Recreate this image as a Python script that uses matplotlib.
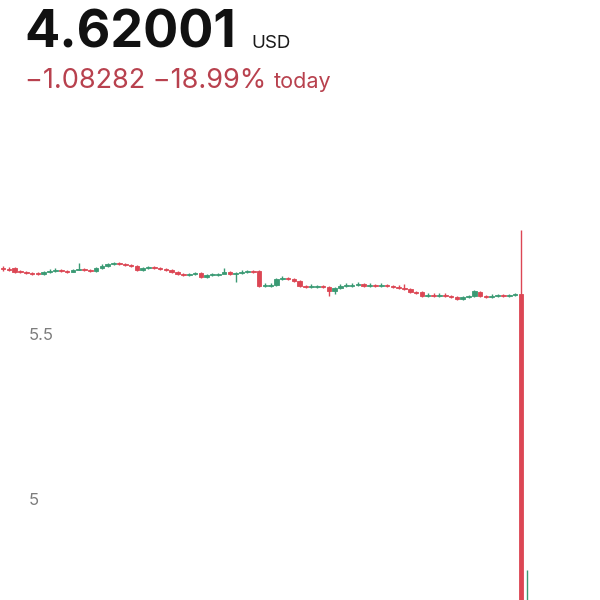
import matplotlib
matplotlib.use('Agg')
import matplotlib.pyplot as plt
import matplotlib.transforms as mtransforms

plt.rcParams['font.family'] = ['Inter', 'DejaVu Sans']

# price header
last_price = '4.62001'
currency = 'USD'
change_text = '\u22121.08282 \u221218.99%'
change_label = 'today'

# candles (open / high / low / close), one per bar
opens = [5.703, 5.700, 5.703, 5.694, 5.691, 5.688, 5.688, 5.685, 5.691, 5.694,
         5.697, 5.694, 5.691, 5.697, 5.700, 5.697, 5.694, 5.703, 5.709, 5.715,
         5.718, 5.715, 5.712, 5.709, 5.697, 5.703, 5.706, 5.703, 5.700, 5.697,
         5.691, 5.685, 5.682, 5.685, 5.688, 5.676, 5.682, 5.682, 5.685, 5.691,
         5.685, 5.688, 5.691, 5.694, 5.694, 5.648, 5.648, 5.652, 5.670, 5.673,
         5.670, 5.664, 5.648, 5.645, 5.645, 5.648, 5.645, 5.633, 5.642, 5.648,
         5.648, 5.652, 5.655, 5.648, 5.652, 5.648, 5.652, 5.648, 5.645, 5.642,
         5.639, 5.630, 5.630, 5.618, 5.621, 5.618, 5.621, 5.618, 5.615, 5.609,
         5.615, 5.618, 5.630, 5.618, 5.615, 5.618, 5.621, 5.618, 5.621, 5.624,
         4.620]
closes = [5.700, 5.697, 5.691, 5.691, 5.688, 5.685, 5.685, 5.691, 5.694, 5.697,
          5.694, 5.691, 5.697, 5.700, 5.697, 5.694, 5.703, 5.709, 5.715, 5.718,
          5.715, 5.712, 5.709, 5.697, 5.703, 5.706, 5.703, 5.700, 5.697, 5.691,
          5.685, 5.682, 5.685, 5.688, 5.676, 5.682, 5.685, 5.685, 5.691, 5.685,
          5.688, 5.691, 5.694, 5.691, 5.648, 5.652, 5.652, 5.670, 5.673, 5.670,
          5.664, 5.648, 5.645, 5.648, 5.648, 5.645, 5.633, 5.642, 5.648, 5.652,
          5.652, 5.655, 5.648, 5.652, 5.648, 5.652, 5.648, 5.645, 5.642, 5.639,
          5.630, 5.627, 5.618, 5.621, 5.618, 5.621, 5.618, 5.615, 5.609, 5.615,
          5.618, 5.633, 5.618, 5.615, 5.618, 5.621, 5.618, 5.621, 5.624, 4.620,
          4.660]
highs = [5.709, 5.706, 5.706, 5.697, 5.694, 5.691, 5.691, 5.694, 5.700, 5.703,
         5.700, 5.697, 5.700, 5.718, 5.703, 5.700, 5.706, 5.715, 5.718, 5.721,
         5.721, 5.718, 5.715, 5.712, 5.706, 5.709, 5.709, 5.706, 5.703, 5.700,
         5.694, 5.688, 5.688, 5.691, 5.691, 5.685, 5.688, 5.688, 5.703, 5.694,
         5.691, 5.697, 5.697, 5.697, 5.697, 5.658, 5.658, 5.673, 5.679, 5.676,
         5.673, 5.667, 5.652, 5.655, 5.652, 5.652, 5.648, 5.645, 5.655, 5.658,
         5.658, 5.661, 5.658, 5.658, 5.655, 5.658, 5.655, 5.652, 5.652, 5.655,
         5.642, 5.633, 5.633, 5.627, 5.627, 5.627, 5.627, 5.621, 5.618, 5.618,
         5.621, 5.636, 5.633, 5.621, 5.624, 5.624, 5.624, 5.624, 5.627, 5.818,
         4.788]
lows = [5.694, 5.694, 5.688, 5.688, 5.685, 5.682, 5.682, 5.682, 5.688, 5.691,
        5.691, 5.688, 5.691, 5.697, 5.694, 5.691, 5.691, 5.700, 5.706, 5.712,
        5.712, 5.709, 5.706, 5.694, 5.694, 5.700, 5.700, 5.697, 5.694, 5.688,
        5.682, 5.679, 5.679, 5.682, 5.673, 5.673, 5.679, 5.679, 5.688, 5.682,
        5.661, 5.685, 5.688, 5.688, 5.645, 5.645, 5.645, 5.648, 5.667, 5.667,
        5.661, 5.645, 5.642, 5.642, 5.642, 5.642, 5.618, 5.624, 5.639, 5.645,
        5.645, 5.648, 5.645, 5.645, 5.645, 5.645, 5.645, 5.642, 5.639, 5.636,
        5.627, 5.624, 5.615, 5.615, 5.615, 5.615, 5.615, 5.612, 5.606, 5.606,
        5.612, 5.615, 5.615, 5.612, 5.612, 5.615, 5.615, 5.615, 5.618, 4.600,
        4.600]

y_ticks = [5.0, 5.5]
y_tick_labels = ['5', '5.5']

UP = '#3a9a74'
DOWN = '#dc4654'

fig = plt.figure(figsize=(6, 6), dpi=100)
ax = fig.add_axes([0, 0, 1, 0.8])

xs = list(range(len(opens)))
colors = [UP if c >= o else DOWN for o, c in zip(opens, closes)]

ax.vlines(xs, lows, highs, colors=colors, linewidth=1.0)
bottoms = [min(o, c) for o, c in zip(opens, closes)]
heights = [abs(c - o) for o, c in zip(opens, closes)]
ax.bar(xs, heights, bottom=bottoms, width=0.8, color=colors,
       edgecolor=colors, linewidth=0.6)

ax.set_xlim(-0.52, 102.6)
ax.set_ylim(4.697, 6.152)
ax.axis('off')

# y labels sit inside the plot on the left
trans = mtransforms.blended_transform_factory(ax.transAxes, ax.transData)
for val, lab in zip(y_ticks, y_tick_labels):
    ax.text(0.047, val, lab, transform=trans, ha='left', va='center',
            fontsize=12, color='#7d7d7d')

# header
fig.text(24 / 600, 1 - 48 / 600, last_price, fontsize=37.5, fontweight='bold',
         color='#111111', ha='left', va='baseline')
fig.text(251 / 600, 1 - 48 / 600, currency, fontsize=13.5, color='#1a1a1a',
         ha='left', va='baseline')
t = fig.text(25 / 600, 1 - 88 / 600, change_text, fontsize=19.5, color='#b8414e',
             ha='left', va='baseline')
fig.canvas.draw()
bb = t.get_window_extent()
fig.text((bb.x1 + 8) / 600, 1 - 88 / 600, change_label, fontsize=15.5,
         color='#b8414e', ha='left', va='baseline')

fig.savefig('out.png', dpi=100, facecolor='white')
